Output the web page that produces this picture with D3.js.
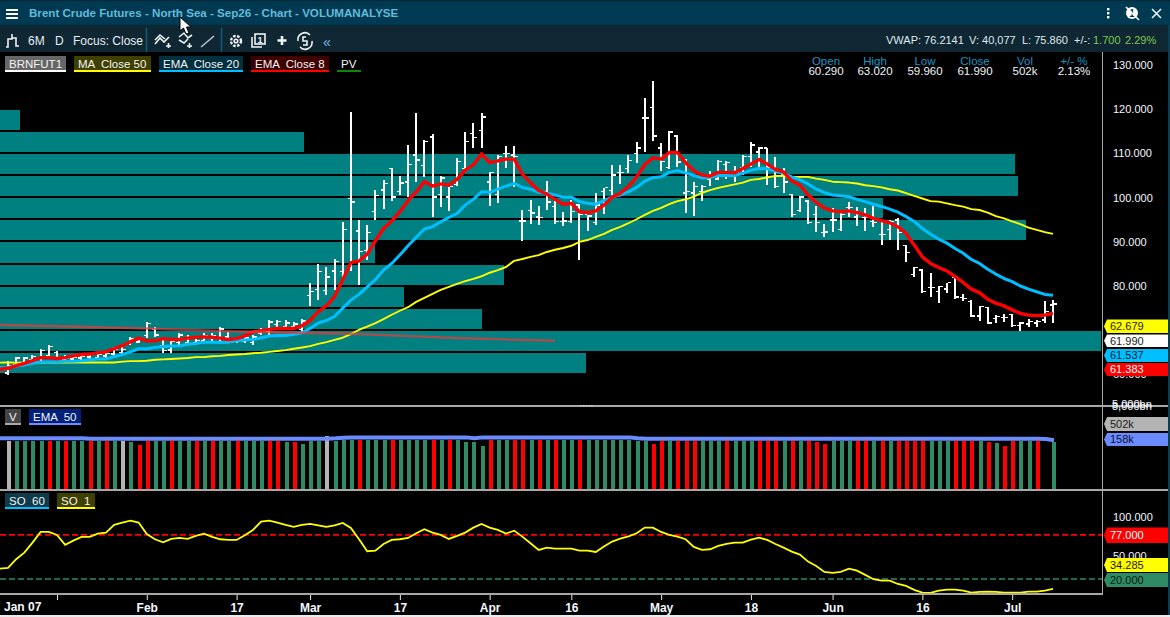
<!DOCTYPE html>
<html>
<head>
<meta charset="utf-8">
<title>Brent Crude Futures - North Sea - Sep26 - Chart</title>
<script src="https://cdn.jsdelivr.net/npm/d3@7"></script>
<style>
  html, body { margin: 0; padding: 0; background: #000; overflow: hidden; }
  svg { display: block; }
</style>
</head>
<body>
<div id="chart"></div>
<script>
// session bars, Jan 07 to Jul
const open = [60.29,62.2,62.6,63.2,63.6,64.2,64.9,63.2,63.4,63.6,
  63.9,63.6,64.1,64.6,64.9,67.0,67.3,68.7,70.1,66.4,
  65.5,67.2,67.2,67.2,67.5,68.1,68.1,68.4,67.5,67.5,
  67.2,69.3,69.7,71.2,70.8,70.7,70.1,77.8,79.1,78.9,
  83.3,83.2,99.7,92.4,88.0,96.8,101.7,106.5,101.3,103.5,
  109.6,107.2,113.7,100.6,100.1,102.9,106.5,114.4,115.1,103.5,
  100.6,109.9,109.6,94.7,97.0,95.6,101.3,97.9,94.5,94.5,
  98.3,96.1,94.3,101.3,101.5,105.6,106.5,109.9,118.0,120.3,
  111.2,106.7,113.9,101.0,101.0,101.3,104.0,104.2,107.4,105.6,
  106.7,109.2,110.3,111.2,106.2,105.1,100.6,97.0,99.2,96.1,
  92.0,94.9,92.7,97.7,95.6,95.4,94.5,91.6,92.7,94.9,
  89.1,82.5,83.6,79.6,78.7,79.3,81.9,77.3,76.4,73.2,
  75.1,72.6,72.8,73.5,71.0,71.4,71.6,72.3,75.7];
const high = [63.02,64.0,64.0,64.4,65.7,66.7,65.4,64.4,64.4,64.4,
  64.9,65.1,65.1,66.1,66.1,68.5,68.5,71.9,70.7,67.8,
  67.8,69.4,68.9,68.2,69.3,69.3,70.7,69.7,68.5,68.7,
  68.9,70.4,72.3,72.3,72.2,71.9,72.5,80.7,85.0,84.3,
  86.1,94.5,119.4,94.9,93.8,101.7,104.0,106.7,104.9,111.9,
  119.1,113.0,114.4,104.9,102.4,109.0,114.8,116.9,119.1,105.8,
  109.6,111.7,111.7,97.2,99.5,98.1,103.8,99.2,96.8,99.5,
  98.6,96.1,101.0,102.2,107.4,107.4,109.6,112.6,122.5,126.4,
  112.4,115.1,114.2,108.7,103.5,102.9,106.0,108.5,108.3,107.2,
  109.6,112.6,111.4,111.2,109.2,106.7,100.8,100.4,99.5,98.1,
  94.0,97.7,96.5,99.0,97.9,97.7,98.1,94.9,94.9,95.4,
  89.3,84.3,83.9,83.0,80.0,80.7,82.1,78.2,76.8,75.5,
  75.3,73.5,73.7,73.7,71.9,72.6,72.3,76.7,76.8];
const low = [59.96,61.8,62.4,62.9,63.1,63.6,63.3,62.9,63.1,63.3,
  63.4,63.3,63.6,64.0,64.4,66.7,67.0,68.3,68.5,64.8,
  64.9,66.7,66.7,66.7,67.0,67.6,67.6,67.2,67.0,67.0,
  66.7,68.9,68.9,70.4,70.2,70.0,69.3,75.5,76.8,78.0,
  79.1,81.4,83.4,80.2,85.9,94.9,97.4,99.2,100.6,100.1,
  103.5,104.7,95.6,97.9,97.0,102.6,106.2,111.2,111.2,98.1,
  98.8,106.7,102.4,90.2,94.0,93.8,97.2,94.0,93.6,94.3,
  85.9,92.4,93.8,96.3,100.6,103.1,105.6,107.9,110.3,112.8,
  106.0,106.5,106.9,96.5,95.8,99.2,102.6,104.0,104.2,103.5,
  105.1,106.9,106.9,102.9,102.2,101.0,95.6,96.8,94.0,92.2,
  91.1,92.2,92.4,95.6,93.6,92.4,93.4,89.3,90.4,88.2,
  85.5,82.1,78.4,77.5,76.2,78.4,77.1,76.6,73.0,72.1,
  71.4,71.6,71.9,70.8,69.9,70.8,70.8,71.6,71.6];
const close = [61.99,63.6,63.6,64.0,65.4,66.2,63.8,63.6,63.8,64.0,
  64.4,64.6,64.7,65.7,65.6,68.0,68.1,71.5,68.9,65.3,
  67.4,68.9,68.3,67.6,68.8,68.8,70.2,68.0,68.1,68.2,
  68.4,70.0,71.8,71.9,71.6,71.4,72.0,78.7,83.2,82.0,
  85.5,92.7,99.0,87.7,92.0,100.4,103.1,100.1,103.3,107.4,
  108.5,112.6,100.1,104.4,102.4,108.1,112.6,113.5,118.2,105.6,
  109.2,109.9,109.2,94.7,96.5,95.4,99.0,94.5,94.7,96.8,
  96.1,95.8,98.3,102.2,105.1,105.6,108.3,111.2,118.0,113.9,
  108.1,114.8,108.0,101.3,102.4,102.4,104.7,108.1,107.9,105.6,
  109.2,111.9,111.2,106.7,102.4,103.5,96.1,100.1,94.3,94.3,
  92.2,94.9,96.1,97.7,96.1,95.4,94.3,91.6,94.5,92.0,
  87.5,84.1,78.7,79.6,79.8,80.7,77.5,77.1,73.2,75.3,
  71.6,73.0,72.8,71.0,71.6,71.9,71.9,74.2,75.86];

// overlays start one session earlier, that point sits on the left edge
const ema8 = [61.15,61.38,62.0,62.5,63.1,63.8,63.8,63.6,63.8,64.2,64.5,
  64.6,64.9,65.1,65.8,66.5,67.4,68.2,67.6,67.6,68.1,
  67.9,67.9,68.2,68.4,68.5,68.4,68.2,67.9,68.1,68.7,
  69.6,69.9,70.2,70.4,70.4,70.4,71.0,72.2,74.2,75.5,
  77.6,81.4,85.3,85.65,87.2,90.2,93.0,94.7,96.8,99.3,
  101.3,103.6,102.6,103.1,102.8,104.1,106.2,107.4,109.9,107.9,
  108.3,108.7,108.7,105.3,103.4,101.6,100.8,99.6,98.5,98.7,
  96.8,96.6,97.0,98.3,100.1,101.0,102.5,104.7,107.5,109.0,
  108.7,110.2,110.2,107.9,106.1,105.1,104.9,105.7,105.7,105.6,
  106.6,107.6,108.6,107.6,106.4,105.8,103.8,102.8,100.6,98.9,
  97.6,97.0,96.8,97.0,96.6,96.1,95.3,94.8,94.3,93.4,
  91.9,89.3,86.6,85.1,84.2,83.4,82.1,80.8,79.3,78.5,
  77.0,76.1,75.5,74.6,73.8,73.4,73.3,73.4,73.8];
const ema20 = [61.5,61.54,61.9,62.1,62.5,62.8,62.8,62.8,63.0,63.0,63.1,
  63.3,63.5,63.5,64.0,64.5,65.1,65.8,65.8,66.1,66.3,
  66.4,66.5,66.8,67.0,67.3,67.3,67.2,67.3,67.6,67.8,
  67.9,68.3,68.7,68.8,68.8,69.1,69.4,70.4,71.6,72.2,
  73.1,75.0,76.8,78.1,79.8,81.4,83.6,85.1,87.0,89.1,
  91.0,92.9,93.4,94.5,95.5,96.4,98.3,99.6,101.3,101.2,
  101.9,102.6,103.2,102.3,101.9,101.2,101.0,100.6,100.1,100.1,
  99.1,98.7,98.5,99.3,100.1,100.6,101.3,102.3,103.7,104.5,
  104.7,105.7,106.1,105.6,105.0,104.5,104.6,105.0,105.0,105.0,
  105.5,106.2,106.6,106.5,106.0,105.5,104.7,104.0,103.1,101.9,
  101.1,100.6,100.4,100.2,99.6,99.1,98.5,98.0,97.4,96.7,
  95.7,94.6,93.0,91.7,90.6,89.7,88.5,87.4,86.0,85.1,
  83.8,82.7,81.7,81.0,80.0,79.3,78.7,78.1,77.9];
const ma50 = [62.66,62.68,62.67,62.66,62.66,62.66,62.67,62.68,62.68,62.68,62.7,
  62.7,62.7,62.7,62.7,62.9,63.0,63.0,63.1,63.3,63.4,
  63.5,63.6,63.7,63.9,63.9,64.1,64.2,64.4,64.5,64.6,
  64.8,64.9,65.1,65.3,65.5,65.8,66.1,66.4,66.9,67.3,
  67.8,68.3,69.1,70.1,70.8,71.6,72.5,73.5,74.4,75.2,
  76.4,77.3,78.2,79.1,79.8,80.5,81.1,81.6,82.2,83.0,
  83.6,84.3,85.7,86.1,86.6,87.0,87.7,88.2,88.6,89.1,
  90.0,90.4,91.1,91.8,92.7,93.4,94.2,95.1,96.1,97.0,
  97.7,98.5,99.2,99.6,100.2,101.1,101.7,102.2,102.6,103.0,
  103.4,104.0,104.2,104.6,104.9,104.9,104.7,104.7,104.7,104.3,
  104.0,103.6,103.5,103.4,103.2,102.8,102.6,102.3,101.9,101.6,
  101.0,100.4,99.8,99.2,99.1,98.7,98.3,97.95,97.4,97.2,
  96.6,95.8,95.3,94.6,94.0,93.2,92.7,92.2,91.8];
const so1 = [33.4,34.29,45.5,54,67,80.7,80.7,76.9,64,69.5,74.3,
  74.3,78.6,79.9,89.8,92.8,95.3,92.8,78.1,71.3,67.4,
  71.7,73,71.7,75.6,78.6,74.3,71.3,70.4,70.4,76.4,
  83.3,94,95.3,92.8,89.8,87.2,89.8,91,89.3,87.2,
  89.3,92.3,85.9,71.3,55.8,56.6,65.2,70.4,71.3,73,
  79,84.2,79.9,76.9,71.7,75.6,79.9,86.3,91,86.3,
  83.3,78.6,82.4,74.7,66.1,57.5,60.5,59.2,59.2,59.2,
  56.6,56.6,54.9,61.8,68.3,72.1,75.1,79,86.3,86.3,
  80.7,76.9,74.7,71.3,61.4,57.5,58.4,62.7,65.2,67,
  67,70.8,73.4,70.4,65.2,60.5,55.4,51.5,42.5,36.9,
  29.1,27.8,29.1,33.4,30.8,25.3,19.7,17.9,17.9,13.6,
  11.1,5.9,2.5,2,5,6.3,6.3,5,2.5,3.3,
  3.8,3.3,2.5,2.5,2.5,3.8,3.8,5,7.2];

// pv trend: session index and price
const pvIndex = [-1,15,28,42,55,67];
const pvValue = [71.2,70.5,69.7,69.2,68.25,67.6];

// volume in thousands, plotted clipped the way the terminal draws it
const volume = [150,150,150,150,150,150,150,150,150,150,
  150,150,150,150,150,147,138,150,150,150,
  150,150,150,150,150,150,150,150,150,150,
  150,150,150,150,147,147,141,150,150,165,
  150,153,153,153,153,153,153,153,153,153,
  153,153,153,153,153,153,147,147,135,153,
  153,153,153,153,153,153,153,153,153,153,
  153,153,153,153,153,153,153,150,150,141,
  150,150,150,150,150,150,150,150,150,150,
  150,150,150,150,150,150,150,150,150,147,
  141,150,150,150,150,150,150,150,150,150,
  150,150,150,150,150,150,150,150,150,150,
  147,144,135,150,150,150,150,0,147];
const volumeSide = ["nggggrgrgg","rgrgngrrgg","rggrgrggrg","ggrrgrgggn","gggrgggrgg",
  "ggrgrggggr","ggrrgrgrgg","rggggggggr","rgrrrgggrg","ggrrrgrgrr",
  "rgggrrgrgr","rrrgggrrrg","rgrrggrng"].join("").split("");
const volumeEma = [158,158,158,158,158,158,158,158,158,158,
  157,157,157,157,157,157,157,157,157,157,
  157,157,157,157,157,157,157,157,157,157,
  157,157,157,157,157,157,157,157,157,157,
  158,160,161,161,161,161,161,161,161,161,
  161,161,161,161,161,161,161,158,161,161,
  161,161,161,161,161,161,161,161,161,161,
  161,161,161,161,161,161,161,158,157,157,
  157,157,157,157,157,157,157,157,157,157,
  157,157,157,157,157,157,157,157,157,157,
  157,157,157,157,157,157,157,157,157,157,
  157,157,157,157,157,157,157,157,157,157,
  157,157,157,157,157,157,157,156,152];

// volume profile, 5 point bins, widths as % of the longest bin
const profileFloor = [115,110,105,100,95,90,85,80,75,70,65,60];
const profileShare = [1.8,27.6,92.2,92.5,80.2,93.2,34.1,45.8,36.7,43.8,100,53.2];
const binSize = 5;

const priceTicks = [130,120,110,100,90,80,60];
const soTicks = [100,50];
const dateTickIndex = [6,17,28,37,48,59,69,80,91,101,112,123];
const dateTickLabel = ["","Feb","17","Mar","17","Apr","16","May","18","Jun","16","Jul"];

const headerNames = ["Open","High","Low","Close","Vol","+/- %"];
const headerValues = ["60.290","63.020","59.960","61.990","502k","2.13%"];

const width = 1170, height = 617;
const axisX = 1102;
const teal = "#008080", soGreen = "#2e8b63", blueLine = "#00bfff";
const ui = "'Liberation Sans', Arial, sans-serif";

const svg = d3.select("#chart").append("svg")
    .attr("width", width)
    .attr("height", height)
    .attr("viewBox", [0, 0, width, height])
    .attr("font-family", ui)
    .attr("font-size", 11);

svg.append("rect").attr("width", width).attr("height", height).attr("fill", "#000");

const x = d3.scaleLinear().domain([0, 128]).range([8, 1053]);
const y = d3.scaleLinear().domain([60, 130]).range([374.4, 65]);
const yVol = d3.scaleLinear().domain([0, 257]).range([490, 406]);
const ySo = d3.scaleLinear().domain([0, 100]).range([594.5, 517]);
const xShare = d3.scaleLinear().domain([0, 100]).range([0, 1101]);

// volume profile behind the price
svg.append("g").attr("fill", teal).attr("shape-rendering", "crispEdges")
  .selectAll("rect")
  .data(profileFloor)
  .join("rect")
    .attr("x", 0)
    .attr("y", d => y(d + binSize) + 0.6)
    .attr("width", (d, i) => xShare(profileShare[i]))
    .attr("height", d => y(d) - y(d + binSize) - 2);

// ohlc bars
const bars = svg.append("g").attr("fill", "#fff").attr("shape-rendering", "crispEdges")
  .selectAll("g")
  .data(d3.range(open.length))
  .join("g");
bars.append("rect")
    .attr("x", i => x(i) - 1)
    .attr("y", i => y(high[i]))
    .attr("width", 2)
    .attr("height", i => y(low[i]) - y(high[i]));
bars.append("rect")
    .attr("x", i => x(i) - 3)
    .attr("y", i => y(open[i]) - 1)
    .attr("width", 2.5)
    .attr("height", 1.5);
bars.append("rect")
    .attr("x", i => x(i) + 1)
    .attr("y", i => y(close[i]) - 1)
    .attr("width", 3)
    .attr("height", 1.5);

const overlay = d3.line().x((d, i) => x(i - 1)).y(d => y(d));
function addLine(values, color, w) {
  svg.append("path")
      .attr("fill", "none")
      .attr("stroke", color)
      .attr("stroke-width", w)
      .attr("stroke-linejoin", "round")
      .attr("d", overlay(values));
}
addLine(ma50, "#ffff00", 1.9);
addLine(ema20, blueLine, 3);
addLine(ema8, "#ff0000", 3.4);

svg.append("path")
    .attr("fill", "none")
    .attr("stroke", "#e03c3c")
    .attr("stroke-width", 2.6)
    .attr("opacity", 0.72)
    .attr("d", d3.line().x(d => x(d)).y((d, i) => y(pvValue[i]))(pvIndex));

// volume panel
const volColor = {g: soGreen, r: "#ff0000", n: "#b4b4b4"};
svg.append("g").attr("shape-rendering", "crispEdges")
  .selectAll("rect")
  .data(volume)
  .join("rect")
    .attr("x", (d, i) => x(i) - 1)
    .attr("y", d => yVol(d))
    .attr("width", 4)
    .attr("height", d => yVol(0) - yVol(d))
    .attr("fill", (d, i) => volColor[volumeSide[i]]);

svg.append("path")
    .attr("fill", "none")
    .attr("stroke", "#6a8cff")
    .attr("stroke-width", 4)
    .attr("d", d3.line().x((d, i) => i ? x(i) + 1 : 0).y(d => yVol(d))(volumeEma));

// stochastic panel
function addLevel(v, color) {
  svg.append("line")
      .attr("x1", 0).attr("x2", axisX)
      .attr("y1", ySo(v)).attr("y2", ySo(v))
      .attr("stroke", color)
      .attr("stroke-width", 1.6)
      .attr("stroke-dasharray", "6,3");
}
addLevel(77, "#ff0000");
addLevel(20, soGreen);
svg.append("path")
    .attr("fill", "none")
    .attr("stroke", "#ffff00")
    .attr("stroke-width", 1.8)
    .attr("d", d3.line().x((d, i) => x(i - 1)).y(d => ySo(d))(so1));

// axes
const axisStyle = g => {
  g.select(".domain").remove();
  g.selectAll("line").remove();
  g.selectAll("text").attr("fill", "#f2f8ff").attr("font-family", ui).attr("font-size", 11);
};
svg.append("g")
    .attr("transform", `translate(${axisX + 3},0)`)
    .call(d3.axisRight(y).tickValues(priceTicks).tickFormat(d3.format(".3f")).tickSize(0).tickPadding(8))
    .call(axisStyle);
svg.append("g")
    .attr("transform", `translate(${axisX + 3},0)`)
    .call(d3.axisRight(ySo).tickValues(soTicks).tickFormat(d3.format(".3f")).tickSize(0).tickPadding(8))
    .call(axisStyle);

svg.append("g")
    .attr("transform", "translate(0,594)")
    .call(d3.axisBottom(x).tickValues(dateTickIndex).tickFormat((d, i) => dateTickLabel[i]).tickSize(6).tickPadding(3))
    .call(g => g.select(".domain").remove())
    .call(g => g.selectAll("line").attr("stroke", "#e8e8e8"))
    .call(g => g.selectAll("text").attr("fill", "#f2f8ff").attr("font-family", ui).attr("font-size", 12).attr("font-weight", 600));
svg.append("text").attr("x", 4).attr("y", 611).attr("fill", "#f2f8ff").attr("font-size", 12).attr("font-weight", 600).text("Jan 07");

// panel frames
const frame = [[0, width, 405.5, 405.5], [0, width, 490, 490], [0, axisX + 0.5, 594, 594], [axisX + 0.5, axisX + 0.5, 52, 594]];
svg.append("g").attr("stroke", "#a8a8a8").attr("shape-rendering", "crispEdges")
  .selectAll("line")
  .data(frame)
  .join("line")
    .attr("x1", d => d[0]).attr("x2", d => d[1]).attr("y1", d => d[2]).attr("y2", d => d[3])
    .attr("stroke-width", (d, i) => i < 2 ? 2 : 1.4);

svg.append("g").attr("fill", "#cfcfcf")
  .selectAll("rect")
  .data(d3.range(5))
  .join("rect")
    .attr("x", d => 580 + d * 2.8).attr("y", 405).attr("width", 1.6).attr("height", 1.4);

// top of the volume axis, two labels print over each other
svg.append("text").attr("x", 1112).attr("y", 410).attr("fill", "#f2f8ff").text("8,000bn");
svg.append("text").attr("x", 1112).attr("y", 408).attr("fill", "#f2f8ff").text("5,000bn");

// value tags on the axis
function tag(top, bottom, fill, textColor, label) {
  const h = bottom - top, l = axisX + 2, b = l + 3;
  svg.append("path")
      .attr("d", `M${l},${top + h / 2}L${b},${top}H1168V${bottom}H${b}Z`)
      .attr("fill", fill);
  svg.append("text")
      .attr("x", 1110)
      .attr("y", top + h / 2)
      .attr("dy", "0.36em")
      .attr("fill", textColor)
      .text(label);
}
tag(319.5, 333, "#ffff00", "#1a1a00", "62.679");
tag(334.5, 347, "#ffffff", "#202020", "61.990");
tag(349, 362, blueLine, "#06202c", "61.537");
tag(363, 376, "#ff0000", "#ffffff", "61.383");
tag(417, 431, "#b4b4b4", "#202020", "502k");
tag(433, 446, "#6a8cff", "#0a0f30", "158k");
tag(527.5, 543, "#ff0000", "#ffffff", "77.000");
tag(558, 572, "#ffff00", "#1a1a00", "34.285");
tag(573, 587, soGreen, "#0c1a12", "20.000");

// chips
function chip(x0, x1, y0, fill, line, label, dx) {
  svg.append("rect").attr("x", x0).attr("y", y0).attr("width", x1 - x0).attr("height", 15).attr("fill", fill);
  svg.append("rect").attr("x", x0).attr("y", y0 + 14).attr("width", x1 - x0).attr("height", 2).attr("fill", line);
  svg.append("text").attr("x", x0 + (dx || 4)).attr("y", y0 + 11.5).attr("fill", "#f4f4f4").attr("font-size", 11.5).attr("xml:space", "preserve").text(label);
}
chip(5, 66, 56, "#666666", "#ffffff", "BRNFUT1");
chip(74, 151, 56, "#3f3f00", "#ffff00", "MA  Close 50");
chip(159, 243, 56, "#00303f", blueLine, "EMA  Close 20");
chip(251, 329, 56, "#3f0000", "#ff0000", "EMA  Close 8");
chip(337, 361, 56, "#000000", "#0a8a0a", "PV");
chip(5, 21, 409, "#444444", "#aaaaaa", "V");
chip(29, 81, 409, "#00207a", "#6a8cff", "EMA  50");
chip(5, 49, 493, "#0e3a4a", blueLine, "SO  60");
chip(57, 95, 493, "#3f3f00", "#ffff00", "SO  1");

// header columns
const headerX = [826, 875, 925, 975, 1025, 1074];
const headerCols = svg.append("g").attr("text-anchor", "middle").attr("font-size", 11.5)
  .selectAll("g")
  .data(headerNames)
  .join("g");
headerCols.append("text")
    .attr("x", (d, i) => headerX[i]).attr("y", 65)
    .attr("fill", "#1d93c4")
    .text(d => d);
headerCols.append("text")
    .attr("x", (d, i) => headerX[i]).attr("y", 75)
    .attr("fill", "#eef5fa")
    .text((d, i) => headerValues[i]);

// window chrome
svg.append("rect").attr("width", width).attr("height", 25).attr("fill", "#003a52");
svg.append("rect").attr("y", 25).attr("width", width).attr("height", 27).attr("fill", "#0e2733");
svg.append("rect").attr("width", width).attr("height", 1).attr("fill", "#0e2733");
svg.append("rect").attr("x", 1168).attr("y", 25).attr("width", 2).attr("height", height - 25).attr("fill", "#0b3f50");
svg.append("rect").attr("y", 615).attr("width", width).attr("height", 2).attr("fill", "#e8ecef");

svg.append("g").attr("fill", "#fff").selectAll("rect").data([9, 13, 17]).join("rect")
    .attr("x", 6).attr("y", d => d).attr("width", 12).attr("height", 2);
svg.append("text").attr("x", 29).attr("y", 17).attr("fill", "#62bbdd").attr("font-size", 11.6).attr("font-weight", 700)
    .text("Brent Crude Futures - North Sea - Sep26 - Chart - VOLUMANALYSE");

const bar2 = svg.append("g").attr("fill", "#e6eef2").attr("font-size", 12);
bar2.append("text").attr("x", 28).attr("y", 45).text("6M");
bar2.append("text").attr("x", 55).attr("y", 45).text("D");
bar2.append("text").attr("x", 73).attr("y", 45).text("Focus: Close");
svg.append("g").attr("stroke", "#0f5f80").attr("stroke-width", 1.4).selectAll("line").data([146.5, 221.5]).join("line")
    .attr("x1", d => d).attr("x2", d => d).attr("y1", 28).attr("y2", 52);

const icons = svg.append("g").attr("fill", "none").attr("stroke", "#eef3f6").attr("stroke-width", 1.6);
icons.append("path").attr("d", "M6,47H8V39H12V34M12,38H16V46H19");
icons.append("path").attr("d", "M155,44L160,38L164,42L169,37M155,40L160,35L165,39M166,46H171M168.5,43V48");
icons.append("path").attr("d", "M179,37L184,33L188,38L192,35M179,40L184,43L188,39M187,46H192M189.5,43V48");
icons.append("path").attr("d", "M201,47L214,36").attr("stroke", "#b9c4ca");
icons.append("circle").attr("cx", 236).attr("cy", 41).attr("r", 5).attr("stroke-width", 2.4).attr("stroke-dasharray", "2.6,1.4");
icons.append("circle").attr("cx", 236).attr("cy", 41).attr("r", 1.8);
icons.append("rect").attr("x", 255).attr("y", 34).attr("width", 10).attr("height", 10);
icons.append("path").attr("d", "M252,37V47H262");
icons.append("path").attr("d", "M282,36V45M277.5,40.5H286.5").attr("stroke-width", 2.6);
icons.append("path").attr("d", "M298,41A7,7 0 0 1 310,35M312,41A7,7 0 0 1 300,47M306,37H303V41H307V45H303");
svg.append("text").attr("x", 260).attr("y", 43).attr("font-size", 9).attr("font-weight", 700).attr("fill", "#eef3f6").attr("text-anchor", "middle").text("1");
svg.append("text").attr("x", 323).attr("y", 47).attr("font-size", 14).attr("fill", "#7db8e8").text("\u00ab");

// right side of the bars
const vwap = [[886, "VWAP: 76.2141", "#dfe8ee"], [969, "V: 40,077", "#dfe8ee"], [1022, "L: 75.860", "#dfe8ee"],
  [1074, "+/-:", "#dfe8ee"], [1093, "1.700", "#7fc84e"], [1125, "2.29%", "#7fc84e"]];
svg.append("g").selectAll("text").data(vwap).join("text")
    .attr("x", d => d[0]).attr("y", 44).attr("fill", d => d[2]).attr("font-size", 11).text(d => d[1]);
svg.append("g").attr("fill", "#fff").selectAll("rect").data([8, 12, 16]).join("rect")
    .attr("x", 1107).attr("y", d => d).attr("width", 2.4).attr("height", 2.4);
svg.append("circle").attr("cx", 1132).attr("cy", 13).attr("r", 6).attr("fill", "#fff");
svg.append("text").attr("x", 1132).attr("y", 17).attr("font-size", 10).attr("font-weight", 700).attr("text-anchor", "middle").attr("fill", "#003a52").text("1");
svg.append("path").attr("d", "M1126,7L1139,20").attr("stroke", "#fff").attr("stroke-width", 1.6);
svg.append("path").attr("d", "M1152,9L1161,18M1161,9L1152,18").attr("stroke", "#e8eef2").attr("stroke-width", 1.6);

// mouse pointer left in the screenshot
svg.append("path")
    .attr("d", "M180,17V31L183.5,28L186,34L189,33L186.5,27L191,27Z")
    .attr("fill", "#fff")
    .attr("stroke", "#000")
    .attr("stroke-width", 1);
</script>
</body>
</html>
